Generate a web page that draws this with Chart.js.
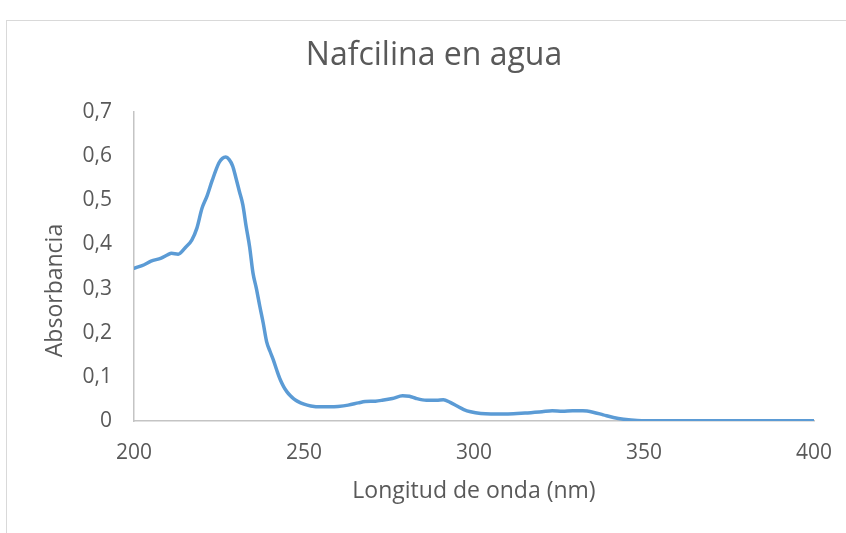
<!DOCTYPE html>
<html>
<head>
<meta charset="utf-8">
<script src="https://cdn.jsdelivr.net/npm/chart.js@4/dist/chart.umd.min.js"></script>
<style>
  html, body { margin: 0; padding: 0; background: #ffffff; }
  #wrap { width: 846px; height: 533px; position: relative; }
</style>
</head>
<body>
<div id="wrap"><canvas id="c" width="846" height="533"></canvas></div>
<script>
// Absorption spectrum of nafcillin in water
const wavelengths = [
  200, 203, 205, 208, 210, 211, 213, 215, 217, 218.5,
  220, 221.5, 223, 225, 226, 227, 228, 229, 230, 231,
  232, 233, 234, 235, 236, 237, 238, 239, 240, 241,
  242, 243, 244, 245, 246, 247, 248, 250, 252, 255,
  258, 260, 263, 266, 268, 271, 273, 276, 279, 281,
  283, 286, 289, 291, 293, 295, 297, 299, 302, 305,
  310, 315, 320, 323, 326, 329, 332, 335, 338, 341,
  344, 348, 352, 360, 370, 380, 390, 400
];
const absorbance = [
  0.346, 0.354, 0.362, 0.369, 0.377, 0.380, 0.378, 0.392, 0.410, 0.437,
  0.482, 0.510, 0.545, 0.585, 0.595, 0.598, 0.592, 0.578, 0.550, 0.520,
  0.490, 0.440, 0.395, 0.335, 0.300, 0.260, 0.222, 0.180, 0.158, 0.138,
  0.115, 0.094, 0.078, 0.066, 0.057, 0.050, 0.045, 0.038, 0.034, 0.032,
  0.032, 0.033, 0.036, 0.041, 0.044, 0.045, 0.047, 0.051, 0.057, 0.056,
  0.051, 0.047, 0.047, 0.048, 0.042, 0.034, 0.026, 0.021, 0.017, 0.016,
  0.016, 0.018, 0.021, 0.023, 0.022, 0.023, 0.023, 0.020, 0.014, 0.008,
  0.004, 0.001, 0.0005, 0.0003, 0.0005, 0.0003, 0.0004, 0.0003
];
const xTicks = [200, 250, 300, 350, 400];
const yTicks = [0, 0.1, 0.2, 0.3, 0.4, 0.5, 0.6, 0.7];
const yTitle = 'Absorbancia';

const TEXT = '#595959';
const FONT = '"Open Sans", "Liberation Sans", sans-serif';

// light frame around the whole chart object
const frame = {
  id: 'frame',
  beforeDraw(chart) {
    const ctx = chart.ctx;
    ctx.save();
    ctx.strokeStyle = '#d9d9d9';
    ctx.lineWidth = 1;
    ctx.strokeRect(6.5, 20.5, 900, 600);
    ctx.restore();
  }
};

// vertical axis title, set a little below the middle of the plot
const yAxisTitle = {
  id: 'yAxisTitle',
  afterDraw(chart) {
    const ctx = chart.ctx;
    const area = chart.chartArea;
    ctx.save();
    ctx.translate(55, (area.top + area.bottom) / 2 + 24);
    ctx.rotate(-Math.PI / 2);
    ctx.fillStyle = TEXT;
    ctx.font = '23px ' + FONT;
    ctx.textAlign = 'center';
    ctx.textBaseline = 'middle';
    ctx.fillText(yTitle, 0, 0);
    ctx.restore();
  }
};

new Chart(document.getElementById('c'), {
  type: 'line',
  data: {
    datasets: [{
      data: wavelengths.map((w, i) => ({ x: w, y: absorbance[i] })),
      borderColor: '#5b9bd5',
      borderWidth: 3.5,
      pointRadius: 0,
      fill: false,
      cubicInterpolationMode: 'monotone',
      borderCapStyle: 'round',
      borderJoinStyle: 'round'
    }]
  },
  options: {
    responsive: false,
    animation: false,
    layout: { padding: { left: 54, right: 32, top: 0, bottom: 23.5 } },
    plugins: {
      legend: { display: false },
      tooltip: { enabled: false },
      title: {
        display: true,
        text: 'Nafcilina en agua',
        color: TEXT,
        font: { family: FONT, size: 32, weight: '400' },
        padding: { top: 37, bottom: 36.6 }
      }
    },
    scales: {
      x: {
        type: 'linear',
        min: 200, max: 400,
        afterBuildTicks(scale) { scale.ticks = xTicks.map(v => ({ value: v })); },
        afterFit(scale) { scale.height = 88.5; scale.paddingLeft = 0; scale.paddingRight = 0; },
        grid: { display: false, drawTicks: false },
        border: { display: true, color: '#c4c4c4', width: 1.5 },
        ticks: { color: TEXT, font: { family: FONT, size: 21 }, padding: 19.4, maxRotation: 0 },
        title: {
          display: true,
          text: 'Longitud de onda (nm)',
          color: TEXT,
          font: { family: FONT, size: 23 }
        }
      },
      y: {
        min: 0, max: 0.7,
        afterBuildTicks(scale) { scale.ticks = yTicks.map(v => ({ value: v })); },
        afterFit(scale) { scale.width = 80; },
        grid: { display: false, drawTicks: false },
        border: { display: true, color: '#c4c4c4', width: 1.5 },
        ticks: {
          color: TEXT,
          font: { family: FONT, size: 21 },
          padding: 22,
          callback: v => (v === 0 ? '0' : v.toFixed(1).replace('.', ','))
        },
        title: { display: false }
      }
    }
  },
  plugins: [frame, yAxisTitle]
});
</script>
</body>
</html>
